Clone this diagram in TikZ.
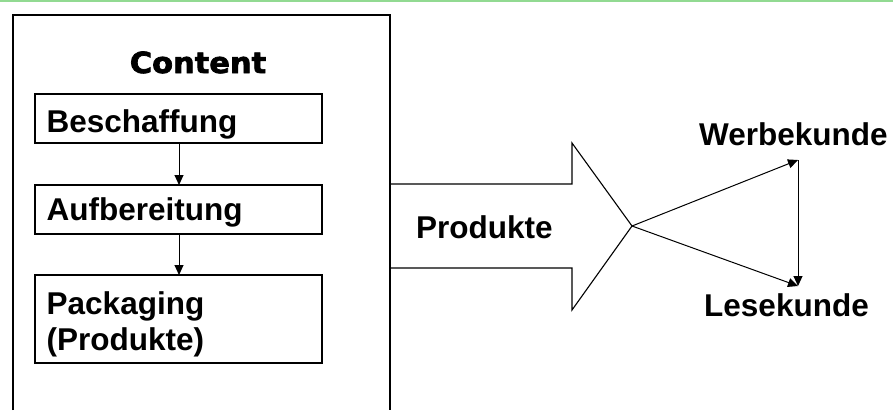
\documentclass[tikz,border=0pt]{standalone}
\usepackage{fontspec}
\setmainfont{Liberation Sans}
\newfontfamily\blackfont[FakeStretch=1.05,FakeBold=2.5]{DejaVu Sans Bold}
\usetikzlibrary{arrows.meta}
\definecolor{topgreen}{RGB}{146,218,146}
\tikzset{
  lbl/.style={font=\fontsize{31.5}{36}\selectfont\bfseries, inner sep=0pt, anchor=base west},
  procbox/.style={draw=black, line width=1.1pt},
  conn/.style={draw=black, line width=1pt, -{Triangle[length=10pt,width=9pt]}},
  frame/.style={draw=black, line width=1.2pt},
}
\begin{document}
\begin{tikzpicture}[x=1pt,y=-1pt]
\useasboundingbox (0,0) rectangle (893,410);
% green top rule
\draw[topgreen, line width=2pt] (0,1) -- (893,1);
% outer open frame
\draw[frame] (13,410) -- (13,15) -- (390,15) -- (390,410);
% title
\node[font=\blackfont\fontsize{29}{32}\selectfont, inner sep=0pt, anchor=base] (title) at (198,73) {Content};
% process boxes
\draw[procbox] (35,94) rectangle (322,143);
\draw[procbox] (35,185) rectangle (322,234);
\draw[procbox] (35,275) rectangle (322,363);
\coordinate (b1b) at (179,143);
\coordinate (b2t) at (179,185);
\coordinate (b2b) at (179,234);
\coordinate (b3t) at (179,275);
\node[lbl] (besch) at (46.5,132.5) {Beschaffung};
\node[lbl] (aufb) at (46.5,220) {Aufbereitung};
\node[lbl, align=left, anchor=north west] (pack) at (46.5,291) {Packaging\\(Produkte)};
\draw[conn] (b1b) -- (b2t);
\draw[conn] (b2b) -- (b3t);
% big arrow
\draw[line width=1.1pt, line join=miter] (390,184) -- (572,184) -- (572,143) -- (632,226) -- (572,310) -- (572,268) -- (390,268);
\coordinate (tip) at (632,226);
\node[lbl] (prod) at (416,238.3) {Produkte};
% customers
\node[lbl] (werbe) at (699,145) {Werbekunde};
\node[lbl] (lese) at (704,316.7) {Lesekunde};
\coordinate (wend) at (798,160);
\coordinate (lend) at (798,286);
\draw[conn] (tip) -- (wend);
\draw[conn] (tip) -- (lend);
\draw[conn] (wend) -- (lend);
\end{tikzpicture}
\end{document}
